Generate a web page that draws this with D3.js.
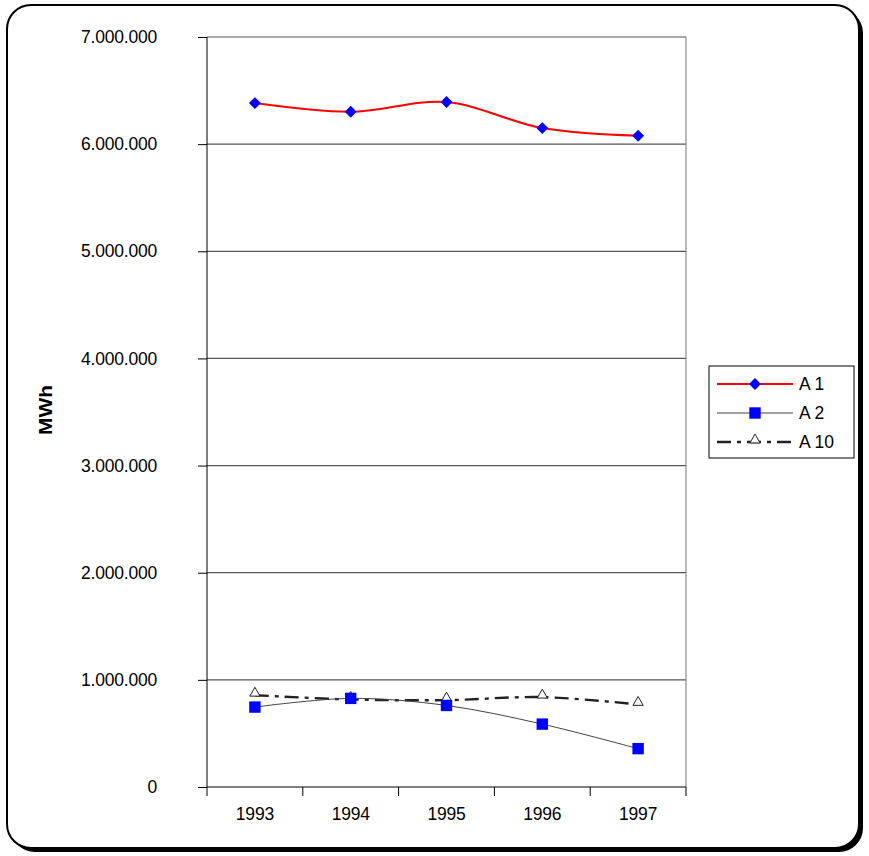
<!DOCTYPE html>
<html>
<head>
<meta charset="utf-8">
<script src="https://cdn.jsdelivr.net/npm/d3@7"></script>
<style>
    body { margin: 0; background: #fff; }
    text { font-family: "Liberation Sans", Arial, sans-serif; }
</style>
</head>
<body>
<div id="chart"></div>
<script>
// --- data ---
const years = ["1993", "1994", "1995", "1996", "1997"];
const a1Values = [6383000, 6302000, 6393000, 6150000, 6078000];
const a2Values = [746000, 827000, 761000, 587000, 358000];
const a10Values = [857000, 817000, 811000, 839000, 771000];
const yTicks = [0, 1000000, 2000000, 3000000, 4000000, 5000000, 6000000, 7000000];
const seriesNames = ["A 1", "A 2", "A 10"];

const width = 869, height = 856;
const margin = { top: 37, right: 183, bottom: 69, left: 207 };
const innerW = width - margin.left - margin.right;
const innerH = height - margin.top - margin.bottom;

const svg = d3.select("#chart")
    .append("svg")
    .attr("width", width)
    .attr("height", height);

// outer rounded frame with shadow
svg.append("rect")
    .attr("x", 11).attr("y", 9)
    .attr("width", 852).attr("height", 843)
    .attr("rx", 24)
    .attr("fill", "#000");
svg.append("rect")
    .attr("x", 7).attr("y", 5)
    .attr("width", 852).attr("height", 843)
    .attr("rx", 24)
    .attr("fill", "#fff")
    .attr("stroke", "#000")
    .attr("stroke-width", 2);

const chart = svg.append("g")
    .attr("transform", `translate(${margin.left}, ${margin.top})`);

const x = d3.scaleBand().domain(years).range([0, innerW]);
const y = d3.scaleLinear().domain([0, 7000000]).range([innerH, 0]);
const fmt = v => d3.format(",")(v).replace(/,/g, ".");

// gridlines
chart.append("g")
    .selectAll("line")
    .data(yTicks.filter(d => d > 0))
    .join("line")
    .attr("x1", 0).attr("x2", innerW)
    .attr("y1", d => y(d)).attr("y2", d => y(d))
    .attr("stroke", "#555")
    .attr("stroke-width", 1.2);

// right border of plot area
chart.append("line")
    .attr("x1", innerW).attr("x2", innerW)
    .attr("y1", 0).attr("y2", innerH)
    .attr("stroke", "#777");

// y axis
const yAxis = chart.append("g")
    .call(d3.axisLeft(y).tickValues(yTicks).tickFormat(fmt).tickSize(9).tickPadding(41));
yAxis.select(".domain").attr("stroke", "#000").attr("d", `M0,0V${innerH}`);
yAxis.selectAll("text")
    .attr("font-size", 17.5)
    .attr("letter-spacing", -0.2)
    .attr("fill", "#000");

// x axis with ticks at band boundaries
const xAxis = chart.append("g")
    .attr("transform", `translate(0, ${innerH})`)
    .call(d3.axisBottom(x).tickSize(0).tickPadding(21));
xAxis.select(".domain").attr("stroke", "#000").attr("d", `M0,0H${innerW}`);
xAxis.selectAll("text")
    .attr("font-size", 17.5)
    .attr("letter-spacing", -0.2)
    .attr("fill", "#000");
xAxis.selectAll(".boundary")
    .data(d3.range(years.length + 1))
    .join("line")
    .attr("x1", i => i * x.step()).attr("x2", i => i * x.step())
    .attr("y1", 0).attr("y2", 9)
    .attr("stroke", "#000");

// y axis title
svg.append("text")
    .attr("transform", "translate(52, 410) rotate(-90)")
    .attr("text-anchor", "middle")
    .attr("font-size", 19)
    .attr("font-weight", "bold")
    .attr("textLength", 50)
    .attr("lengthAdjust", "spacingAndGlyphs")
    .text("MWh");

const cx = d => x(d) + x.bandwidth() / 2;
const line = d3.line()
    .x((d, i) => cx(years[i]))
    .y(d => y(d))
    .curve(d3.curveCatmullRom.alpha(0));

// A 10 - dash dot black
chart.append("path")
    .datum(a10Values)
    .attr("fill", "none")
    .attr("stroke", "#222")
    .attr("stroke-width", 2.4)
    .attr("stroke-dasharray", "14,6,4,6")
    .attr("d", line);

// A 2 - thin grey
chart.append("path")
    .datum(a2Values)
    .attr("fill", "none")
    .attr("stroke", "#444")
    .attr("stroke-width", 1)
    .attr("d", line);

// A 1 - red
chart.append("path")
    .datum(a1Values)
    .attr("fill", "none")
    .attr("stroke", "#f00")
    .attr("stroke-width", 2)
    .attr("d", line);

const diamond = d3.symbol().type(d3.symbolDiamond2).size(90);
const square = d3.symbol().type(d3.symbolSquare).size(130);
const triangle = d3.symbol().type(d3.symbolTriangle2).size(75);

chart.selectAll(".m10")
    .data(a10Values)
    .join("path")
    .attr("transform", (d, i) => `translate(${cx(years[i])}, ${y(d) - 2})`)
    .attr("d", triangle)
    .attr("fill", "#fff")
    .attr("stroke", "#222")
    .attr("stroke-width", 1);

chart.selectAll(".m2")
    .data(a2Values)
    .join("path")
    .attr("transform", (d, i) => `translate(${cx(years[i])}, ${y(d)})`)
    .attr("d", square)
    .attr("fill", "#00f");

chart.selectAll(".m1")
    .data(a1Values)
    .join("path")
    .attr("transform", (d, i) => `translate(${cx(years[i])}, ${y(d)})`)
    .attr("d", diamond)
    .attr("fill", "#00f");

// legend
const legend = svg.append("g").attr("transform", "translate(709, 366)");
legend.append("rect")
    .attr("width", 145).attr("height", 92)
    .attr("fill", "#fff")
    .attr("stroke", "#000")
    .attr("stroke-width", 1);

const legendRows = [
    { stroke: "#f00", width: 2, dash: null, sym: diamond, fill: "#00f", symStroke: "none" },
    { stroke: "#444", width: 1, dash: null, sym: square, fill: "#00f", symStroke: "none" },
    { stroke: "#222", width: 2.4, dash: "14,6,4,6", sym: triangle, fill: "#fff", symStroke: "#222" }
];

legendRows.forEach((r, i) => {
    const g = legend.append("g").attr("transform", `translate(0, ${18 + i * 29})`);
    g.append("line")
        .attr("x1", 8).attr("x2", 84)
        .attr("stroke", r.stroke)
        .attr("stroke-width", r.width)
        .attr("stroke-dasharray", r.dash);
    g.append("path")
        .attr("transform", `translate(46, ${i === 2 ? -2 : 0})`)
        .attr("d", r.sym)
        .attr("fill", r.fill)
        .attr("stroke", r.symStroke);
    g.append("text")
        .attr("x", 90)
        .attr("dy", "0.35em")
        .attr("font-size", 17.5)
        .text(seriesNames[i]);
});
</script>
</body>
</html>
